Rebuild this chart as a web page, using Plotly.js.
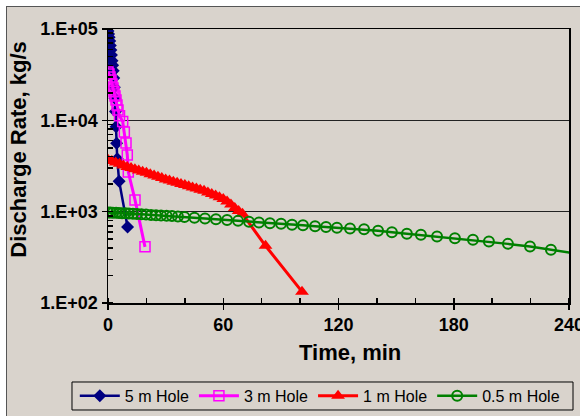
<!DOCTYPE html>
<html>
<head>
<meta charset="utf-8">
<script src="https://cdn.plot.ly/plotly-3.0.1.min.js"></script>
<style>
  html, body { margin: 0; padding: 0; background: #ffffff; width: 580px; height: 416px; overflow: hidden; position: relative; }
  #frame { position: absolute; left: 6px; top: 6px; width: 600px; height: 410px; border-left: 1px solid #555; border-top: 1px solid #555; background: #d9d3cc; }
  #chart { width: 600px; height: 409px; }
</style>
</head>
<body>
<div id="frame"><div id="chart"></div></div>
<script>
// ---- Data ----
const seriesNames = ["5 m Hole", "3 m Hole", "1 m Hole", "0.5 m Hole"];
const xTitle = "Time, min";
const yTitle = "Discharge Rate, kg/s";

// 5 m hole
const time5 = [0, 0.3, 0.6, 0.9, 1.2, 1.5, 1.8, 2.1, 2.4, 2.7, 3.0, 3.3, 3.6, 3.9, 4.2, 4.5, 4.8, 5.8, 10.2];
const rate5 = [95000, 88000, 81000, 74000, 66000, 59000, 52000, 45000, 40000, 35000, 29000, 23000, 17500, 12500, 8500, 5600, 3800, 2150, 680];

// 3 m hole
const time3 = [0, 0.52, 1.04, 1.56, 2.08, 2.6, 3.12, 3.64, 4.16, 4.68, 5.21, 5.99, 7.65, 8.5, 9.37, 10.05, 10.57, 14.06, 19.26];
const rate3 = [33900, 32200, 29900, 27700, 25000, 22600, 20500, 18500, 16700, 14700, 13000, 11200, 9700, 7460, 5660, 4180, 2720, 1345, 412];

// 1 m hole
const time1 = [0, 2, 4, 6, 8, 10, 12, 14, 16, 18, 20, 22, 24, 26, 28, 30, 32, 34, 36, 38, 40, 42, 44, 46, 48, 50, 52, 54, 56, 58, 60, 62, 64, 66, 68, 70, 82, 101];
const rate1 = [3700, 3580, 3460, 3340, 3210, 3090, 3000, 2910, 2830, 2740, 2660, 2570, 2490, 2410, 2330, 2250, 2190, 2130, 2070, 2010, 1960, 1900, 1840, 1790, 1740, 1690, 1620, 1560, 1500, 1440, 1380, 1290, 1200, 1100, 1020, 946, 423, 133];

// 0.5 m hole
const time05 = [0, 1.3, 2.6, 4.2, 5.7, 7.3, 9.1, 10.9, 13, 15.1, 17.4, 19.8, 22.4, 25, 27.6, 30.5, 33.3, 36.4, 39.8, 45, 50.5, 56.2, 62, 67.7, 73.4, 78.6, 84.3, 90.1, 95.8, 101.5, 107.8, 113.5, 119.2, 126, 133.3, 140.6, 147.8, 155.6, 162.9, 171.3, 180.6, 190, 198.3, 208.2, 219.7, 230.6, 250];
const rate05 = [980, 978, 975, 970, 966, 962, 958, 953, 946, 942, 935, 929, 922, 916, 908, 902, 895, 887, 872, 856, 841, 824, 810, 793, 777, 763, 748, 736, 721, 708, 692, 680, 668, 655, 641, 617, 594, 572, 558, 534, 513, 492, 471, 444, 415, 382, 333];

// Axis ticks
const xTickVals = [0, 60, 120, 180, 240];
const xTickText = ["0", "60", "120", "180", "240"];
const yTickVals = [100, 1000, 10000, 100000];
const yTickText = ["1.E+02", "1.E+03", "1.E+04", "1.E+05"];

// ---- Styles ----
const colors = ["#000080", "#ff00ff", "#ff0000", "#008000"];
const bg = "#d9d3cc";
const font = "Liberation Sans, Arial, sans-serif";

const traces = [
  { x: time5, y: rate5, name: seriesNames[0], type: "scatter", mode: "lines+markers",
    line: { color: colors[0], width: 2.5 },
    marker: { symbol: "diamond", size: 10, color: colors[0] } },
  { x: time3, y: rate3, name: seriesNames[1], type: "scatter", mode: "lines+markers",
    line: { color: colors[1], width: 3 },
    marker: { symbol: "square-open", size: 10, color: colors[1], line: { width: 1.5, color: colors[1] } } },
  { x: time1, y: rate1, name: seriesNames[2], type: "scatter", mode: "lines+markers",
    line: { color: colors[2], width: 3 },
    marker: { symbol: "triangle-up", size: 12, color: colors[2] } },
  { x: time05, y: rate05, name: seriesNames[3], type: "scatter", mode: "lines+markers",
    line: { color: colors[3], width: 2.5 },
    marker: { symbol: "circle-open", size: 10, color: colors[3], line: { width: 2, color: colors[3] } } }
];

const layout = {
  width: 600, height: 409,
  paper_bgcolor: bg, plot_bgcolor: bg,
  margin: { l: 101, r: 38, t: 22, b: 113, autoexpand: false },
  font: { family: font, color: "#000" },
  showlegend: true,
  legend: {
    orientation: "h", x: -0.072, xanchor: "left", y: -0.277, yanchor: "top",
    bgcolor: "rgba(0,0,0,0)", borderwidth: 0,
    font: { family: font, size: 16, color: "#000" },
    itemwidth: 40, tracegroupgap: 0
  },
  shapes: [
    { type: "rect", xref: "paper", yref: "paper", x0: -0.0781, x1: 1.0087, y0: -0.3905, y1: -0.2883,
      line: { color: "#000", width: 1 }, fillcolor: "rgba(0,0,0,0)", layer: "above" }
  ],
  annotations: [
    { text: "<b>" + xTitle + "</b>", xref: "paper", yref: "paper", x: 0.526, y: -0.179,
      xanchor: "center", yanchor: "middle", showarrow: false,
      font: { family: font, size: 22, color: "#000" } },
    { text: "<b>" + yTitle + "</b>", xref: "paper", yref: "paper", x: -0.194, y: 0.558,
      xanchor: "center", yanchor: "middle", textangle: -90, showarrow: false,
      font: { family: font, size: 22, color: "#000" } }
  ],
  xaxis: {
    range: [0, 240], tickmode: "array", tickvals: xTickVals, ticktext: xTickText,
    ticks: "outside", ticklen: 5, tickwidth: 1.5, tickcolor: "#000", ticklabeloverflow: "allow",
    minor: { dtick: 20, tick0: 0, ticks: "inside", ticklen: 5, tickwidth: 1.5, tickcolor: "#000", showgrid: false },
    showline: true, linecolor: "#000", linewidth: 1.5, mirror: true,
    showgrid: false, zeroline: false,
    tickfont: { family: font, size: 18, color: "#000", weight: "bold" }
  },
  yaxis: {
    type: "log", range: [2, 5], tickmode: "array", tickvals: yTickVals, ticktext: yTickText,
    ticks: "outside", ticklen: 5, tickwidth: 1.5, tickcolor: "#000",
    minor: { dtick: "D1", ticks: "inside", ticklen: 5, tickwidth: 1.5, tickcolor: "#000", showgrid: false },
    showline: true, linecolor: "#000", linewidth: 1.5, mirror: true,
    showgrid: true, gridcolor: "#222", gridwidth: 1, zeroline: false,
    tickfont: { family: font, size: 18, color: "#000", weight: "bold" }
  },
  xaxis2: {
    overlaying: "x", anchor: "y", side: "bottom", range: [0, 240],
    tickmode: "array", tickvals: xTickVals, ticks: "inside", ticklen: 5, tickwidth: 1.5, tickcolor: "#000",
    showticklabels: false, showgrid: false, zeroline: false, showline: false
  },
  yaxis2: {
    overlaying: "y", anchor: "x", side: "left", type: "log", range: [2, 5],
    tickmode: "array", tickvals: yTickVals, ticks: "inside", ticklen: 5, tickwidth: 1.5, tickcolor: "#000",
    showticklabels: false, showgrid: false, zeroline: false, showline: false
  }
};

Plotly.newPlot("chart", traces, layout, { displayModeBar: false, staticPlot: true });
</script>
</body>
</html>
